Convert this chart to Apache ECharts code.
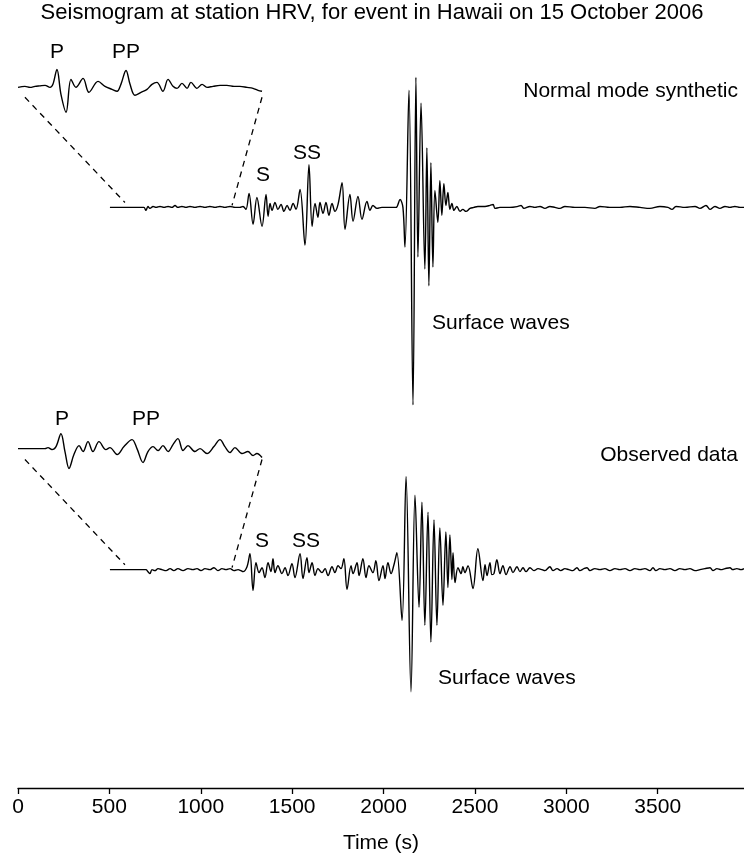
<!DOCTYPE html>
<html>
<head>
<meta charset="UTF-8">
<title>Seismogram HRV</title>
<script src="https://cdn.jsdelivr.net/npm/echarts@6/dist/echarts.min.js"></script>
<style>
  html, body { margin: 0; padding: 0; background: #fff; }
  #chart { width: 744px; height: 859px; }
</style>
</head>
<body>
<div id="chart"></div>
<script>
// tick labels of the time axis (s)
var timeTicks = [0, 500, 1000, 1500, 2000, 2500, 3000, 3500];

// normal mode synthetic: [time (s), amplitude]
var synthTrace = [
  [503,0],[667,0],[689,0],[700,-3],[711,1],[722,-1],[739,1],[755,0],[777,1],[799,0],[821,1],[842,0],[859,2],[875,0],
  [897,1],[919,0],[941,1],[968,0],[996,1],[1023,0],[1050,1],[1078,0],[1105,1],[1132,0],[1160,1],[1187,0],[1214,0],
  [1231,1],[1247,-2],[1264,14],[1286,-17],[1307,10],[1335,-19],[1357,13],[1368,-9],[1379,4],[1390,-3],[1406,5],
  [1422,-2],[1439,3],[1455,-4],[1472,2],[1488,-3],[1505,4],[1521,-2],[1543,18],[1570,-38],[1592,43],[1609,-19],
  [1625,4],[1641,-10],[1652,5],[1669,-6],[1685,5],[1701,-8],[1718,4],[1734,-4],[1751,3],[1773,25],[1789,-22],
  [1816,13],[1833,-14],[1860,11],[1882,-12],[1909,6],[1926,-3],[1942,2],[1964,-1],[1991,0],[2035,0],[2068,0],
  [2090,8],[2106,0],[2117,-40],[2139,118],[2161,-199],[2177,131],[2188,-50],[2205,105],[2226,-62],[2237,60],
  [2248,-79],[2259,45],[2270,-60],[2281,17],[2297,-15],[2308,27],[2319,-8],[2330,24],[2341,2],[2352,15],[2363,-2],
  [2374,4],[2385,-3],[2401,1],[2418,-4],[2434,-2],[2451,-4],[2473,-1],[2494,0],[2516,1],[2555,1],[2582,2],[2599,3],
  [2610,-1],[2637,0],[2691,0],[2735,1],[2752,2],[2768,-1],[2801,1],[2828,0],[2856,1],[2883,-1],[2910,1],[2938,0],
  [2965,-1],[2992,1],[3047,0],[3102,0],[3156,-1],[3184,1],[3238,0],[3293,0],[3348,1],[3403,0],[3457,-1],[3512,1],
  [3556,0],[3578,-2],[3600,1],[3649,0],[3704,1],[3731,-1],[3764,2],[3786,-2],[3813,1],[3840,-1],[3868,1],[3895,0],
  [3922,1],[3950,0],[3972,0]
];

// magnified P / PP window of the synthetic, drawn at the top left
var synthInset = [
  [0,-1],[38,0],[66,-1],[93,0],[120,0.5],[148,1],[175,-1],[191,2],[213,17],[235,-8],[263,-26],[290,7],[317,-1],
  [356,8],[388,-6],[438,5],[476,0],[514,-3],[542,-5],[563,2],[591,16],[613,2],[640,-9],[673,-6],[706,-3],[733,2],
  [760,4],[793,-5],[821,7],[848,0],[870,-2],[897,3],[925,-2],[946,4],[979,-2],[1007,2],[1034,-1],[1067,0],[1105,1],
  [1143,1],[1182,0],[1214,0],[1253,-1],[1286,-2],[1313,-4],[1335,-5]
];

// observed data: [time (s), amplitude]
var obsTrace = [
  [503,0],[667,0],[700,0],[711,-2],[722,-4],[733,0],[749,-1],[766,1],[788,0],[810,-1],[832,1],[853,-1],[875,1],
  [903,-1],[930,1],[957,0],[979,1],[1001,-1],[1023,1],[1050,0],[1072,2],[1094,-1],[1116,1],[1138,0],[1160,1],
  [1182,-1],[1204,0],[1220,-1],[1231,-2],[1253,3],[1269,16],[1286,-21],[1302,7],[1319,-3],[1335,2],[1351,-8],
  [1368,7],[1384,-2],[1395,11],[1406,-3],[1422,4],[1444,-4],[1461,2],[1477,-6],[1499,6],[1515,-8],[1543,16],
  [1559,-9],[1581,12],[1592,-3],[1609,7],[1625,-6],[1641,1],[1663,-3],[1680,1],[1696,-6],[1718,3],[1734,-3],
  [1751,4],[1767,1],[1783,11],[1800,-20],[1822,4],[1833,-4],[1855,7],[1866,-6],[1887,11],[1904,-8],[1920,4],
  [1942,-3],[1958,9],[1975,-11],[1997,4],[2008,-9],[2024,7],[2041,-4],[2057,5],[2073,17],[2101,-51],[2123,94],
  [2150,-123],[2172,75],[2194,-38],[2210,68],[2226,-56],[2243,58],[2259,-73],[2276,50],[2292,-56],[2308,42],
  [2325,-36],[2341,38],[2352,-18],[2363,35],[2374,-10],[2380,17],[2391,-13],[2407,2],[2424,-4],[2434,3],[2445,-3],
  [2462,4],[2489,-19],[2516,21],[2544,-11],[2555,5],[2566,-6],[2582,7],[2593,-5],[2604,-4],[2620,10],[2637,-4],
  [2653,4],[2670,-5],[2692,3],[2708,-3],[2730,3],[2746,-2],[2763,2],[2779,-2],[2801,2],[2823,-1],[2845,1],[2867,0],
  [2883,-1],[2910,3],[2927,-1],[2949,1],[2970,-1],[2992,1],[3014,0],[3036,-1],[3058,2],[3074,-1],[3096,1],[3113,2],
  [3129,-1],[3156,1],[3184,0],[3211,1],[3238,-1],[3266,1],[3293,0],[3321,1],[3348,-1],[3375,1],[3403,0],[3430,1],
  [3457,-1],[3474,2],[3490,-1],[3512,1],[3539,0],[3567,1],[3594,-1],[3621,1],[3649,0],[3676,1],[3704,-1],[3731,0],
  [3758,1],[3786,2],[3802,-1],[3824,1],[3846,0],[3868,1],[3895,2],[3911,0],[3933,1],[3955,0],[3972,1]
];

// magnified P / PP window of the observed record
var obsInset = [
  [0,0],[66,0],[148,0],[164,1],[186,-1],[208,2],[235,15],[257,-3],[279,-20],[306,-6],[334,3],[356,-3],[383,7],
  [410,-3],[443,7],[481,-1],[503,1],[542,-6],[580,2],[624,9],[651,0],[684,-14],[711,-3],[739,2],[766,-2],[793,3],
  [821,-3],[848,4],[875,10],[903,-2],[930,3],[968,-3],[996,0],[1034,-5],[1072,2],[1105,9],[1132,2],[1160,-4],
  [1187,1],[1225,-5],[1258,-3],[1286,-7],[1307,-5],[1335,-9]
];

// window of the main trace that the inset magnifies, and where the inset sits
var zoomWindow = [585, 1171];
var insetSpan = [38, 1335];

// vertical placement of each trace (y axis units)
var synthBase = 585, synthInsetBase = 707;
var obsBase = 220, obsInsetBase = 342;

function shift(arr, base) {
  return arr.map(function (p) { return [p[0], p[1] + base]; });
}

function connectors(insetBase, mainBase) {
  return [
    [[insetSpan[0], insetBase - 11], [zoomWindow[0], mainBase + 5]],
    [[insetSpan[1], insetBase - 11], [zoomWindow[1], mainBase + 2]]
  ];
}

var font = 'Liberation Sans, Arial, Helvetica, sans-serif';

function trace(data) {
  return {
    type: 'line', data: data, symbol: 'none', silent: true, smooth: 0.35,
    lineStyle: { color: '#000', width: 1.4 }
  };
}
function dashed(data) {
  return {
    type: 'line', data: data, symbol: 'none', silent: true,
    lineStyle: { color: '#000', width: 1.3, type: [6, 5] }
  };
}

function label(text, x, y, align, size) {
  return {
    type: 'text', x: x, y: y,
    style: { text: text, font: (size || 21) + 'px ' + font, fill: '#000', align: align || 'center', verticalAlign: 'middle' }
  };
}

var chart = echarts.init(document.getElementById('chart'));
var series = [
  trace(shift(synthTrace, synthBase)),
  trace(shift(synthInset, synthInsetBase)),
  trace(shift(obsTrace, obsBase)),
  trace(shift(obsInset, obsInsetBase))
];
connectors(synthInsetBase, synthBase).concat(connectors(obsInsetBase, obsBase)).forEach(function (c) {
  series.push(dashed(c));
});

chart.setOption({
  animation: false,
  backgroundColor: '#fff',
  grid: { left: 18, right: 0, top: 0, bottom: 65, containLabel: false },
  xAxis: {
    type: 'value', min: 0, max: 3972,
    name: 'Time (s)', nameLocation: 'middle', nameGap: 45,
    nameTextStyle: { fontFamily: font, fontSize: 21, color: '#000' },
    axisLine: { onZero: false, lineStyle: { color: '#000', width: 1.3 } },
    axisTick: { show: true, length: 6, customValues: timeTicks, lineStyle: { color: '#000', width: 1.3 } },
    axisLabel: {
      customValues: timeTicks, margin: 9, fontFamily: font, fontSize: 21, color: '#000',
      formatter: function (v) { return String(v); }
    },
    splitLine: { show: false }
  },
  yAxis: { type: 'value', min: 0, max: 794, show: false },
  series: series,
  graphic: [
    label('Seismogram at station HRV, for event in Hawaii on 15 October 2006', 372, 13, 'center', 22),
    label('P', 57, 52), label('PP', 126, 52),
    label('Normal mode synthetic', 738, 91, 'right'),
    label('S', 263, 175), label('SS', 307, 153),
    label('Surface waves', 432, 323, 'left'),
    label('P', 62, 419), label('PP', 146, 419),
    label('Observed data', 738, 455, 'right'),
    label('S', 262, 541), label('SS', 306, 541),
    label('Surface waves', 438, 678, 'left')
  ]
});
</script>
</body>
</html>
